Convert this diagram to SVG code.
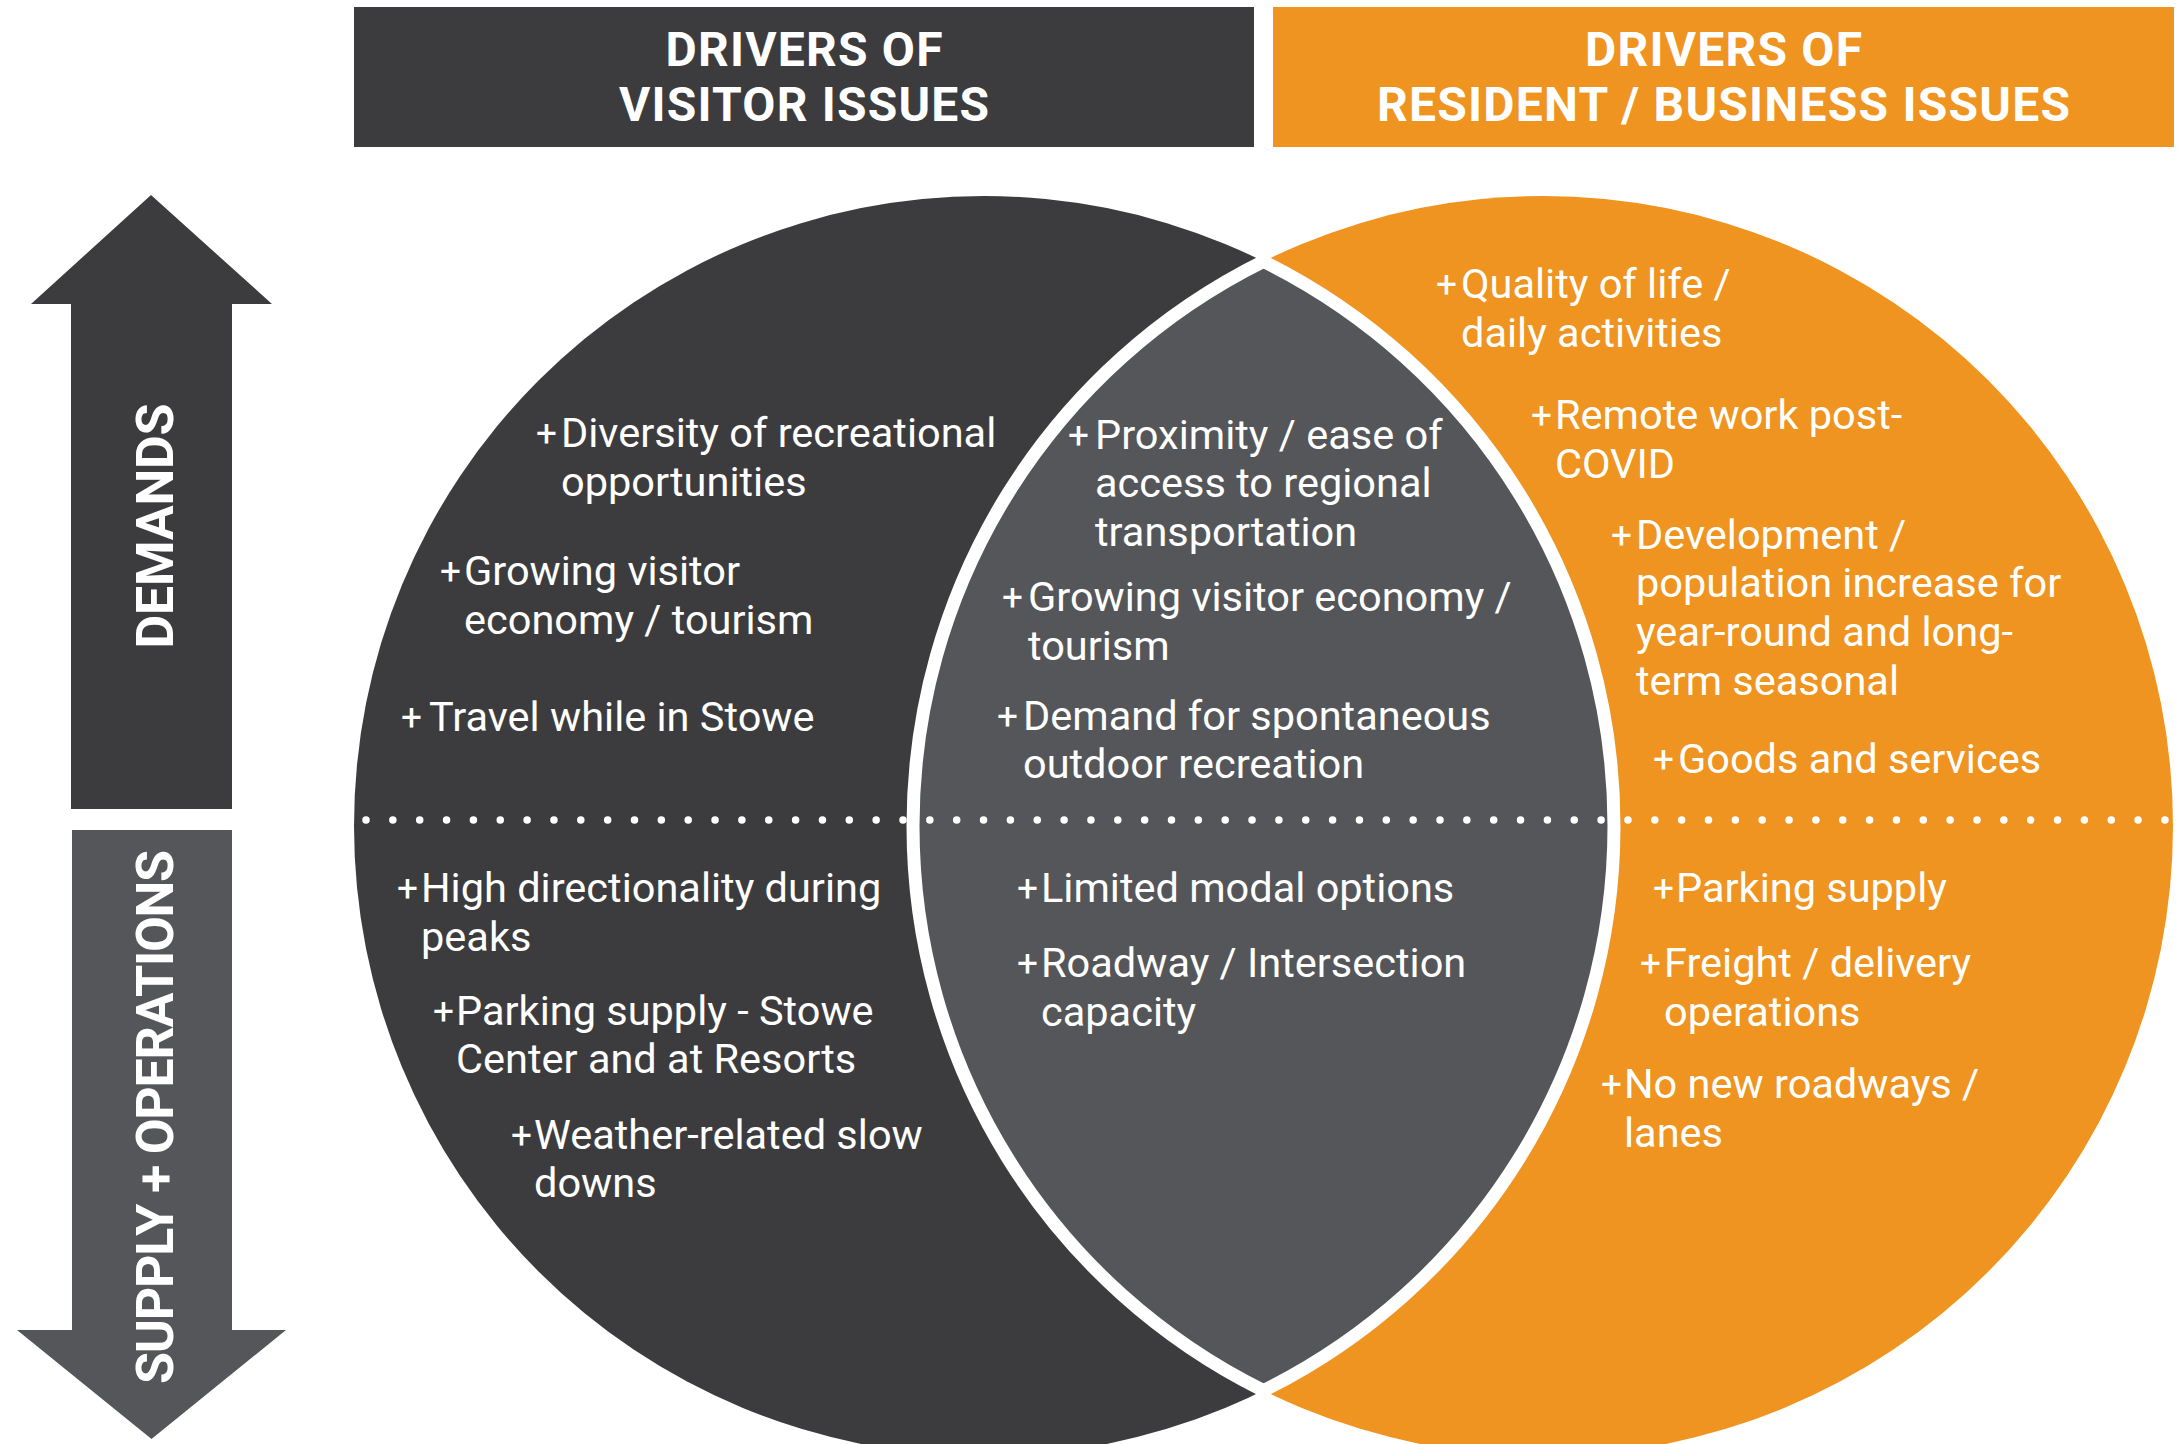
<svg xmlns="http://www.w3.org/2000/svg" width="2182" height="1444" viewBox="0 0 2182 1444">
  <style>
    .hdr { font-family: Roboto, "Liberation Sans", sans-serif; font-weight: 700; font-size: 48px; fill: #ffffff; text-anchor: middle; }
    .axis { font-family: Roboto, "Liberation Sans", sans-serif; font-weight: 700; font-size: 52px; fill: #ffffff; text-anchor: middle; }
    .item { font-family: Roboto, "Liberation Sans", sans-serif; font-weight: 400; font-size: 41.5px; fill: #ffffff; }
    .plus { font-size: 37px; }
    .dark { fill: #3c3c3e; }
    .mid { fill: #545659; }
    .orange { fill: #ef9420; }
  </style>

  <rect width="2182" height="1444" fill="#ffffff"/>

  <!-- column headers -->
  <g id="header-visitor">
    <rect x="354" y="7" width="900" height="140" class="dark"/>
    <text class="hdr" x="804" y="66" textLength="277">DRIVERS OF</text>
    <text class="hdr" x="804" y="121" textLength="370">VISITOR ISSUES</text>
  </g>
  <g id="header-resident">
    <rect x="1273" y="7" width="901" height="140" class="orange"/>
    <text class="hdr" x="1723.5" y="66" textLength="277">DRIVERS OF</text>
    <text class="hdr" x="1723.5" y="121" textLength="693">RESIDENT / BUSINESS ISSUES</text>
  </g>

  <!-- vertical axis arrows -->
  <g id="axis-demands">
    <polygon class="dark" points="151,195 272,304 232,304 232,809 71,809 71,304 31,304"/>
    <text class="axis" x="173" y="526" textLength="245" transform="rotate(-90 173 526)">DEMANDS</text>
  </g>
  <g id="axis-supply">
    <polygon class="mid" points="72,830 232,830 232,1330 286,1330 151.5,1439 17,1330 72,1330"/>
    <text class="axis" x="173" y="1117" textLength="534" transform="rotate(-90 173 1117)">SUPPLY + OPERATIONS</text>
  </g>

  <!-- venn circles -->
  <g id="circle-visitor">
    <circle cx="984" cy="826" r="630" class="dark"/>
  </g>
  <g id="circle-resident">
    <circle cx="1543" cy="826" r="630" class="orange"/>
  </g>
  <g id="overlap">
    <path class="mid" stroke="#ffffff" stroke-width="13"
          d="M1263.5 261.4 A630 630 0 0 1 1263.5 1390.6 A630 630 0 0 1 1263.5 261.4 Z"/>
  </g>

  <!-- dotted divider between demands and supply -->
  <g id="divider">
    <path d="M366 820 H2168" fill="none" stroke="#ffffff" stroke-width="7.5"
          stroke-linecap="round" stroke-dasharray="0 26.85"/>
  </g>

  <!-- visitor-only items -->
  <g id="visitor-items" class="item">
    <text class="plus" x="536" y="446">+</text><text x="561" y="447">Diversity of recreational</text>
    <text x="561" y="496">opportunities</text>
    <text class="plus" x="440" y="584">+</text><text x="464" y="585">Growing visitor</text>
    <text x="464" y="634">economy / tourism</text>
    <text class="plus" x="401" y="730">+</text><text x="429" y="731">Travel while in Stowe</text>
    <text class="plus" x="397" y="901">+</text><text x="421" y="902">High directionality during</text>
    <text x="421" y="951">peaks</text>
    <text class="plus" x="433" y="1024">+</text><text x="456" y="1025">Parking supply - Stowe</text>
    <text x="456" y="1073">Center and at Resorts</text>
    <text class="plus" x="511" y="1148">+</text><text x="534" y="1149">Weather-related slow</text>
    <text x="534" y="1197">downs</text>
  </g>

  <!-- shared items -->
  <g id="shared-items" class="item">
    <text class="plus" x="1068" y="448">+</text><text x="1095" y="449">Proximity / ease of</text>
    <text x="1095" y="497">access to regional</text>
    <text x="1095" y="546">transportation</text>
    <text class="plus" x="1002" y="610">+</text><text x="1028" y="611">Growing visitor economy /</text>
    <text x="1028" y="660">tourism</text>
    <text class="plus" x="997" y="729">+</text><text x="1023" y="730">Demand for spontaneous</text>
    <text x="1023" y="778">outdoor recreation</text>
    <text class="plus" x="1017" y="901">+</text><text x="1041" y="902">Limited modal options</text>
    <text class="plus" x="1017" y="976">+</text><text x="1041" y="977">Roadway / Intersection</text>
    <text x="1041" y="1026">capacity</text>
  </g>

  <!-- resident / business items -->
  <g id="resident-items" class="item">
    <text class="plus" x="1436" y="297">+</text><text x="1461" y="298">Quality of life /</text>
    <text x="1461" y="347">daily activities</text>
    <text class="plus" x="1531" y="428">+</text><text x="1555" y="429">Remote work post-</text>
    <text x="1555" y="478">COVID</text>
    <text class="plus" x="1611" y="548">+</text><text x="1636" y="549">Development /</text>
    <text x="1636" y="597">population increase for</text>
    <text x="1636" y="646">year-round and long-</text>
    <text x="1636" y="695">term seasonal</text>
    <text class="plus" x="1653" y="772">+</text><text x="1678" y="773">Goods and services</text>
    <text class="plus" x="1653" y="901">+</text><text x="1676" y="902">Parking supply</text>
    <text class="plus" x="1640" y="976">+</text><text x="1664" y="977">Freight / delivery</text>
    <text x="1664" y="1026">operations</text>
    <text class="plus" x="1601" y="1097">+</text><text x="1624" y="1098">No new roadways /</text>
    <text x="1624" y="1147">lanes</text>
  </g>
</svg>
